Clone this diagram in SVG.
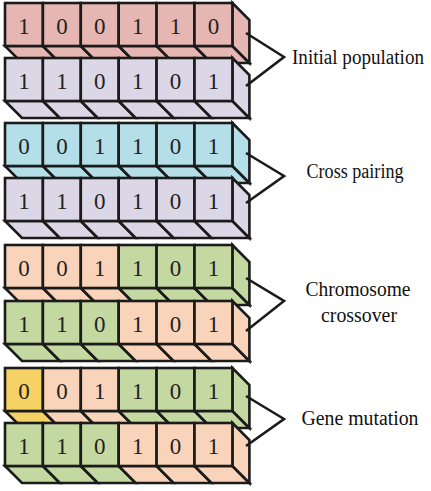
<svg xmlns="http://www.w3.org/2000/svg" width="431" height="491" viewBox="0 0 431 491">
<defs>
<style>
.c{stroke:#1b1b1b;stroke-width:2.6;stroke-linejoin:miter;stroke-miterlimit:4}
.pk{fill:#E6B6B2}.lv{fill:#DBD7E7}.bl{fill:#B4DEE8}.pe{fill:#F9D4BA}.gr{fill:#C4D9A2}.ye{fill:#F6D163}
.d{font-family:"Liberation Serif",serif;font-size:23px;fill:#222;text-anchor:middle}
.lb{font-family:"Liberation Serif",serif;font-size:20px;fill:#111;text-anchor:middle}
.ln{fill:none;stroke:#1b1b1b;stroke-width:2.6}
</style>
</defs>
<rect width="431" height="491" fill="#fff"/>
<!-- Row 1 -->
<g id="row1" transform="translate(0,3)">
<polygon class="c pk" points="5,43 42.9,43 59.9,60 22,60"/>
<polygon class="c pk" points="42.9,43 80.8,43 97.8,60 59.9,60"/>
<polygon class="c pk" points="80.8,43 118.7,43 135.7,60 97.8,60"/>
<polygon class="c pk" points="118.7,43 156.6,43 173.6,60 135.7,60"/>
<polygon class="c pk" points="156.6,43 194.5,43 211.5,60 173.6,60"/>
<polygon class="c pk" points="194.5,43 232.4,43 249.4,60 211.5,60"/>
<polygon class="c pk" points="232.4,0 249.4,17 249.4,60 232.4,43"/>
<rect class="c pk" x="5" y="0" width="37.9" height="43"/>
<rect class="c pk" x="42.9" y="0" width="37.9" height="43"/>
<rect class="c pk" x="80.8" y="0" width="37.9" height="43"/>
<rect class="c pk" x="118.7" y="0" width="37.9" height="43"/>
<rect class="c pk" x="156.6" y="0" width="37.9" height="43"/>
<rect class="c pk" x="194.5" y="0" width="37.9" height="43"/>
<text class="d" x="24" y="30.5">1</text><text class="d" x="61.9" y="30.5">0</text><text class="d" x="99.8" y="30.5">0</text><text class="d" x="137.7" y="30.5">1</text><text class="d" x="175.6" y="30.5">1</text><text class="d" x="213.5" y="30.5">0</text>
</g>

<!-- Row 2 -->
<g id="row2" transform="translate(0,58)">
<polygon class="c lv" points="5,43 42.9,43 59.9,60 22,60"/>
<polygon class="c lv" points="42.9,43 80.8,43 97.8,60 59.9,60"/>
<polygon class="c lv" points="80.8,43 118.7,43 135.7,60 97.8,60"/>
<polygon class="c lv" points="118.7,43 156.6,43 173.6,60 135.7,60"/>
<polygon class="c lv" points="156.6,43 194.5,43 211.5,60 173.6,60"/>
<polygon class="c lv" points="194.5,43 232.4,43 249.4,60 211.5,60"/>
<polygon class="c lv" points="232.4,0 249.4,17 249.4,60 232.4,43"/>
<rect class="c lv" x="5" y="0" width="37.9" height="43"/>
<rect class="c lv" x="42.9" y="0" width="37.9" height="43"/>
<rect class="c lv" x="80.8" y="0" width="37.9" height="43"/>
<rect class="c lv" x="118.7" y="0" width="37.9" height="43"/>
<rect class="c lv" x="156.6" y="0" width="37.9" height="43"/>
<rect class="c lv" x="194.5" y="0" width="37.9" height="43"/>
<text class="d" x="24" y="30.5">1</text><text class="d" x="61.9" y="30.5">1</text><text class="d" x="99.8" y="30.5">0</text><text class="d" x="137.7" y="30.5">1</text><text class="d" x="175.6" y="30.5">0</text><text class="d" x="213.5" y="30.5">1</text>
</g>

<!-- Row 3 -->
<g id="row3" transform="translate(0,123)">
<polygon class="c bl" points="5,43 42.9,43 59.9,60 22,60"/>
<polygon class="c bl" points="42.9,43 80.8,43 97.8,60 59.9,60"/>
<polygon class="c bl" points="80.8,43 118.7,43 135.7,60 97.8,60"/>
<polygon class="c bl" points="118.7,43 156.6,43 173.6,60 135.7,60"/>
<polygon class="c bl" points="156.6,43 194.5,43 211.5,60 173.6,60"/>
<polygon class="c bl" points="194.5,43 232.4,43 249.4,60 211.5,60"/>
<polygon class="c bl" points="232.4,0 249.4,17 249.4,60 232.4,43"/>
<rect class="c bl" x="5" y="0" width="37.9" height="43"/>
<rect class="c bl" x="42.9" y="0" width="37.9" height="43"/>
<rect class="c bl" x="80.8" y="0" width="37.9" height="43"/>
<rect class="c bl" x="118.7" y="0" width="37.9" height="43"/>
<rect class="c bl" x="156.6" y="0" width="37.9" height="43"/>
<rect class="c bl" x="194.5" y="0" width="37.9" height="43"/>
<text class="d" x="24" y="30.5">0</text><text class="d" x="61.9" y="30.5">0</text><text class="d" x="99.8" y="30.5">1</text><text class="d" x="137.7" y="30.5">1</text><text class="d" x="175.6" y="30.5">0</text><text class="d" x="213.5" y="30.5">1</text>
</g>

<!-- Row 4 -->
<g id="row4" transform="translate(0,178)">
<polygon class="c lv" points="5,43 42.9,43 59.9,60 22,60"/>
<polygon class="c lv" points="42.9,43 80.8,43 97.8,60 59.9,60"/>
<polygon class="c lv" points="80.8,43 118.7,43 135.7,60 97.8,60"/>
<polygon class="c lv" points="118.7,43 156.6,43 173.6,60 135.7,60"/>
<polygon class="c lv" points="156.6,43 194.5,43 211.5,60 173.6,60"/>
<polygon class="c lv" points="194.5,43 232.4,43 249.4,60 211.5,60"/>
<polygon class="c lv" points="232.4,0 249.4,17 249.4,60 232.4,43"/>
<rect class="c lv" x="5" y="0" width="37.9" height="43"/>
<rect class="c lv" x="42.9" y="0" width="37.9" height="43"/>
<rect class="c lv" x="80.8" y="0" width="37.9" height="43"/>
<rect class="c lv" x="118.7" y="0" width="37.9" height="43"/>
<rect class="c lv" x="156.6" y="0" width="37.9" height="43"/>
<rect class="c lv" x="194.5" y="0" width="37.9" height="43"/>
<text class="d" x="24" y="30.5">1</text><text class="d" x="61.9" y="30.5">1</text><text class="d" x="99.8" y="30.5">0</text><text class="d" x="137.7" y="30.5">1</text><text class="d" x="175.6" y="30.5">0</text><text class="d" x="213.5" y="30.5">1</text>
</g>

<!-- Row 5 -->
<g id="row5" transform="translate(0,245)">
<polygon class="c pe" points="5,43 42.9,43 59.9,60 22,60"/>
<polygon class="c pe" points="42.9,43 80.8,43 97.8,60 59.9,60"/>
<polygon class="c pe" points="80.8,43 118.7,43 135.7,60 97.8,60"/>
<polygon class="c gr" points="118.7,43 156.6,43 173.6,60 135.7,60"/>
<polygon class="c gr" points="156.6,43 194.5,43 211.5,60 173.6,60"/>
<polygon class="c gr" points="194.5,43 232.4,43 249.4,60 211.5,60"/>
<polygon class="c gr" points="232.4,0 249.4,17 249.4,60 232.4,43"/>
<rect class="c pe" x="5" y="0" width="37.9" height="43"/>
<rect class="c pe" x="42.9" y="0" width="37.9" height="43"/>
<rect class="c pe" x="80.8" y="0" width="37.9" height="43"/>
<rect class="c gr" x="118.7" y="0" width="37.9" height="43"/>
<rect class="c gr" x="156.6" y="0" width="37.9" height="43"/>
<rect class="c gr" x="194.5" y="0" width="37.9" height="43"/>
<text class="d" x="24" y="30.5">0</text><text class="d" x="61.9" y="30.5">0</text><text class="d" x="99.8" y="30.5">1</text><text class="d" x="137.7" y="30.5">1</text><text class="d" x="175.6" y="30.5">0</text><text class="d" x="213.5" y="30.5">1</text>
</g>

<!-- Row 6 -->
<g id="row6" transform="translate(0,301)">
<polygon class="c gr" points="5,43 42.9,43 59.9,60 22,60"/>
<polygon class="c gr" points="42.9,43 80.8,43 97.8,60 59.9,60"/>
<polygon class="c gr" points="80.8,43 118.7,43 135.7,60 97.8,60"/>
<polygon class="c pe" points="118.7,43 156.6,43 173.6,60 135.7,60"/>
<polygon class="c pe" points="156.6,43 194.5,43 211.5,60 173.6,60"/>
<polygon class="c pe" points="194.5,43 232.4,43 249.4,60 211.5,60"/>
<polygon class="c pe" points="232.4,0 249.4,17 249.4,60 232.4,43"/>
<rect class="c gr" x="5" y="0" width="37.9" height="43"/>
<rect class="c gr" x="42.9" y="0" width="37.9" height="43"/>
<rect class="c gr" x="80.8" y="0" width="37.9" height="43"/>
<rect class="c pe" x="118.7" y="0" width="37.9" height="43"/>
<rect class="c pe" x="156.6" y="0" width="37.9" height="43"/>
<rect class="c pe" x="194.5" y="0" width="37.9" height="43"/>
<text class="d" x="24" y="30.5">1</text><text class="d" x="61.9" y="30.5">1</text><text class="d" x="99.8" y="30.5">0</text><text class="d" x="137.7" y="30.5">1</text><text class="d" x="175.6" y="30.5">0</text><text class="d" x="213.5" y="30.5">1</text>
</g>

<!-- Row 7 -->
<g id="row7" transform="translate(0,368)">
<polygon class="c ye" points="5,43 42.9,43 59.9,60 22,60"/>
<polygon class="c pe" points="42.9,43 80.8,43 97.8,60 59.9,60"/>
<polygon class="c pe" points="80.8,43 118.7,43 135.7,60 97.8,60"/>
<polygon class="c gr" points="118.7,43 156.6,43 173.6,60 135.7,60"/>
<polygon class="c gr" points="156.6,43 194.5,43 211.5,60 173.6,60"/>
<polygon class="c gr" points="194.5,43 232.4,43 249.4,60 211.5,60"/>
<polygon class="c gr" points="232.4,0 249.4,17 249.4,60 232.4,43"/>
<rect class="c ye" x="5" y="0" width="37.9" height="43"/>
<rect class="c pe" x="42.9" y="0" width="37.9" height="43"/>
<rect class="c pe" x="80.8" y="0" width="37.9" height="43"/>
<rect class="c gr" x="118.7" y="0" width="37.9" height="43"/>
<rect class="c gr" x="156.6" y="0" width="37.9" height="43"/>
<rect class="c gr" x="194.5" y="0" width="37.9" height="43"/>
<text class="d" x="24" y="30.5">0</text><text class="d" x="61.9" y="30.5">0</text><text class="d" x="99.8" y="30.5">1</text><text class="d" x="137.7" y="30.5">1</text><text class="d" x="175.6" y="30.5">0</text><text class="d" x="213.5" y="30.5">1</text>
</g>

<!-- Row 8 -->
<g id="row8" transform="translate(0,423)">
<polygon class="c gr" points="5,43 42.9,43 59.9,60 22,60"/>
<polygon class="c gr" points="42.9,43 80.8,43 97.8,60 59.9,60"/>
<polygon class="c gr" points="80.8,43 118.7,43 135.7,60 97.8,60"/>
<polygon class="c pe" points="118.7,43 156.6,43 173.6,60 135.7,60"/>
<polygon class="c pe" points="156.6,43 194.5,43 211.5,60 173.6,60"/>
<polygon class="c pe" points="194.5,43 232.4,43 249.4,60 211.5,60"/>
<polygon class="c pe" points="232.4,0 249.4,17 249.4,60 232.4,43"/>
<rect class="c gr" x="5" y="0" width="37.9" height="43"/>
<rect class="c gr" x="42.9" y="0" width="37.9" height="43"/>
<rect class="c gr" x="80.8" y="0" width="37.9" height="43"/>
<rect class="c pe" x="118.7" y="0" width="37.9" height="43"/>
<rect class="c pe" x="156.6" y="0" width="37.9" height="43"/>
<rect class="c pe" x="194.5" y="0" width="37.9" height="43"/>
<text class="d" x="24" y="30.5">1</text><text class="d" x="61.9" y="30.5">1</text><text class="d" x="99.8" y="30.5">0</text><text class="d" x="137.7" y="30.5">1</text><text class="d" x="175.6" y="30.5">0</text><text class="d" x="213.5" y="30.5">1</text>
</g>

<g id="connectors">
<polyline class="ln" points="246,33 284,57 246,86"/>
<polyline class="ln" points="246,153 284,176 246,203"/>
<polyline class="ln" points="246,278 284,301 246,331"/>
<polyline class="ln" points="246,396 284,419 246,446"/>
</g>

<g id="labels">
<text class="lb" x="358" y="64" textLength="132" lengthAdjust="spacingAndGlyphs">Initial population</text>
<text class="lb" x="355" y="178" textLength="97" lengthAdjust="spacingAndGlyphs">Cross pairing</text>
<text class="lb" x="358" y="296" textLength="105" lengthAdjust="spacingAndGlyphs">Chromosome</text>
<text class="lb" x="359" y="322" textLength="76" lengthAdjust="spacingAndGlyphs">crossover</text>
<text class="lb" x="360" y="425" textLength="117" lengthAdjust="spacingAndGlyphs">Gene mutation</text>
</g>
</svg>
